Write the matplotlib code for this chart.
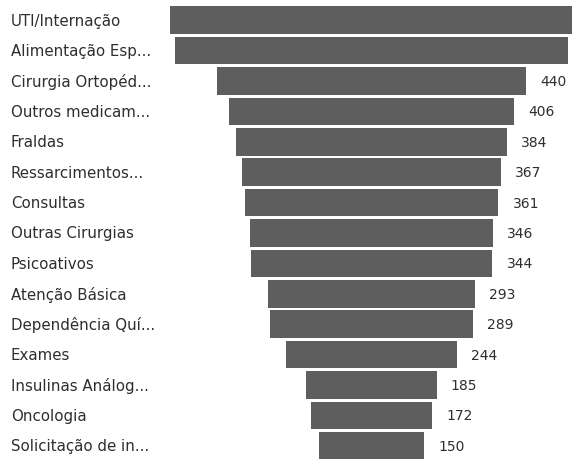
"""Funnel of requests by category, bars centred on a common axis."""
import matplotlib
matplotlib.use("Agg")
import matplotlib.pyplot as plt
import matplotlib.transforms as mtransforms

categories = [
    "UTI/Internação", "Alimentação Esp...", "Cirurgia Ortopéd...", "Outros medicam...",
    "Fraldas", "Ressarcimentos...", "Consultas", "Outras Cirurgias", "Psicoativos",
    "Atenção Básica", "Dependência Quí...", "Exames", "Insulinas Análog...",
    "Oncologia", "Solicitação de in...",
]
values = [573, 559, 440, 406, 384, 367, 361, 346, 344, 293, 289, 244, 185, 172, 150]
# the two widest bars reach the edge of the visual, so their labels are hidden
show_label = [False, False] + [True] * 13

BAR = "#5e5e5e"
TEXT = "#2e2e2e"
W, H = 572, 460

fig = plt.figure(figsize=(W / 100, H / 100), dpi=100)
ax = fig.add_axes([170 / W, -2 / H, 403 / W, 456 / H])

n = len(values)
ys = list(range(n))
lefts = [-v / 2 for v in values]
ax.barh(ys, values, left=lefts, height=0.91, color=BAR)
ax.set_xlim(-max(values) / 2, max(values) / 2)
ax.set_ylim(n - 0.5, -0.5)
ax.axis("off")

lab = mtransforms.blended_transform_factory(fig.transFigure, ax.transData)
for y, name in zip(ys, categories):
    ax.text(11 / W, y, name, transform=lab, ha="left", va="center",
            fontsize=10.8, color=TEXT, clip_on=False)

for y, v, show in zip(ys, values, show_label):
    if show:
        ax.annotate(f"{v}", (v / 2, y), xytext=(14, 0), textcoords="offset pixels",
                    ha="left", va="center", fontsize=10, color=TEXT)

fig.savefig("out.png", dpi=100)
